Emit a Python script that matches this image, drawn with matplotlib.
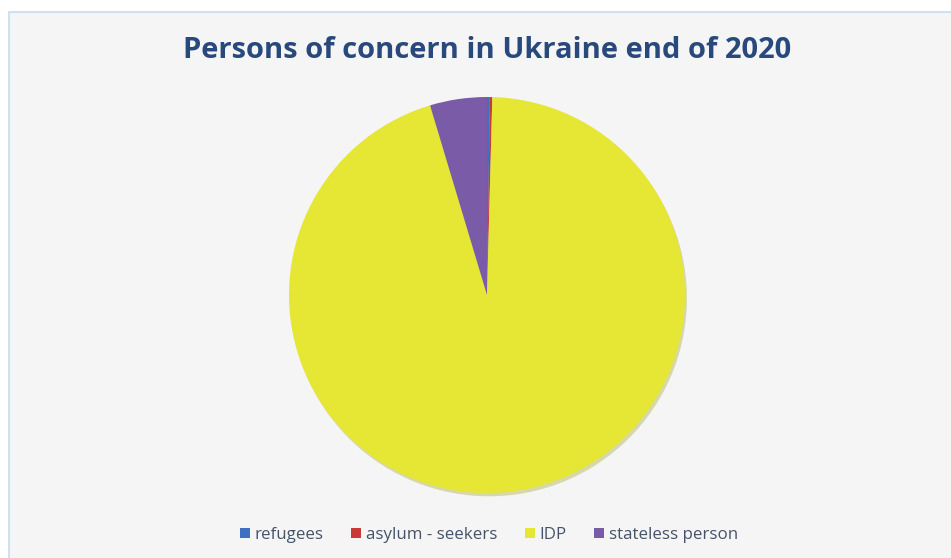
import matplotlib.pyplot as plt
from matplotlib.patches import Rectangle

# persons of concern, Ukraine, end of 2020
categories = ["refugees", "asylum - seekers", "IDP", "stateless person"]
values = [1800, 1500, 734000, 35900]
colors = ["#3e6fc0", "#c83a35", "#e6e635", "#7a5ba8"]

title = "Persons of concern in Ukraine end of 2020"

plt.rcParams["font.family"] = ["Open Sans", "DejaVu Sans"]

fig = plt.figure(figsize=(9.51, 5.58), dpi=100)
fig.patch.set_facecolor("white")

# chart area background with light blue border
bg = Rectangle((9 / 951, -0.01), 1.0, (558 - 12) / 558 + 0.01,
               transform=fig.transFigure, facecolor="#f5f5f5",
               edgecolor="#c9dbef", linewidth=1.2, zorder=-10)
fig.add_artist(bg)

ax = fig.add_axes([289 / 951, (558 - 493) / 558, 396 / 951, 396 / 558])
ax.set_zorder(1)
ax.set_facecolor("none")
wedges, _ = ax.pie(values, colors=colors, startangle=90, counterclock=False,
                   radius=1.0,
                   shadow={"ox": 0.007, "oy": -0.012, "shade": 0.3, "alpha": 0.35},
                   wedgeprops={"linewidth": 0})
ax.set_xlim(-1, 1)
ax.set_ylim(-1, 1)
ax.set_aspect("equal")
ax.axis("off")

fig.text(487 / 951, 1 - 50 / 558, title, ha="center", va="center",
         fontsize=21, fontweight="bold", color="#28497c")

leg = fig.legend(wedges, categories, loc="center", bbox_to_anchor=(489 / 951, 1 - 535 / 558),
                 ncol=4, frameon=False, fontsize=12.2, handlelength=0.6,
                 handleheight=0.6, handletextpad=0.3, columnspacing=1.6)
for t in leg.get_texts():
    t.set_color("#44546a")

fig.savefig("out.png", dpi=100)
